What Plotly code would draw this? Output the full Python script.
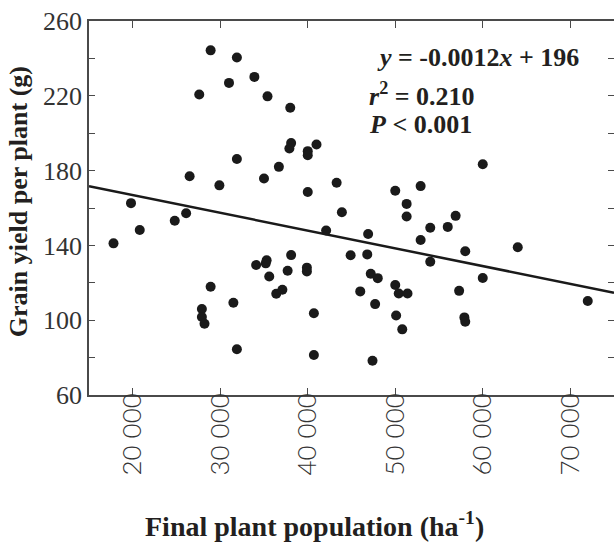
import numpy as np
import plotly.graph_objects as go

# Final plant population (ha-1)
population = [17800, 19800, 20800, 24800, 26100, 26500, 27600, 28900, 29900, 31000,
              31900, 31900, 33900, 35000, 35400, 36700, 38000, 38100, 37900, 40000,
              40000, 41000, 40000, 43300, 43900, 42100, 50000, 52900, 51300, 51300,
              46900, 44900, 46800, 54000, 56000, 56900, 52900, 54000, 60000, 58000,
              64000, 60000, 57300, 72000, 57900, 58000, 38100, 34100, 35300, 35200,
              35600, 37700, 39900, 39900, 36400, 37100, 47200, 48000, 46000, 47700,
              50000, 50400, 51400, 50100, 50800, 40700, 40700, 47400, 28900, 27900,
              27900, 28200, 31500, 31900]
# Grain yield per plant (g)
grain_yield = [141.1, 162.6, 148.2, 153.2, 157.2, 177.0, 220.7, 244.3, 172.1, 226.9,
               240.5, 186.2, 230.1, 175.8, 219.7, 182.0, 213.6, 194.7, 191.8, 190.4,
               188.2, 194.0, 168.6, 173.5, 157.7, 148.0, 169.2, 171.7, 162.2, 155.5,
               146.1, 134.7, 135.2, 149.4, 149.9, 155.8, 142.9, 131.3, 183.4, 136.9,
               139.0, 122.6, 115.7, 110.3, 101.5, 99.2, 134.8, 129.5, 132.1, 130.4,
               123.4, 126.4, 128.1, 126.0, 114.1, 116.3, 124.8, 122.5, 115.4, 108.6,
               118.8, 114.3, 114.3, 102.5, 95.1, 103.7, 81.4, 78.3, 117.9, 106.0,
               101.7, 98.1, 109.3, 84.5]

x_tickvals = [20000, 30000, 40000, 50000, 60000, 70000]
x_ticktext = ["20 000", "30 000", "40 000", "50 000", "60 000", "70 000"]
y_tickvals = [60, 80, 100, 120, 140, 160, 180, 200, 220, 240, 260]
y_ticktext = ["60", "", "100", "", "140", "", "180", "", "220", "", "260"]
x_range = [15000, 75000]
y_range = [60, 260]

slope, intercept = np.polyfit(population, grain_yield, 1)
line_x = np.array(x_range, dtype=float)
line_y = slope * line_x + intercept

SERIF = "Liberation Serif, Times New Roman, serif"
AX = "#4a4a4a"

fig = go.Figure()
fig.add_trace(go.Scatter(x=line_x, y=line_y, mode="lines",
                         line=dict(color="#1a1a1a", width=2.5),
                         hoverinfo="skip", showlegend=False))
fig.add_trace(go.Scatter(x=population, y=grain_yield, mode="markers",
                         marker=dict(color="#1a1a1a", size=10),
                         showlegend=False))
# invisible trace for right-side tick axis
fig.add_trace(go.Scatter(x=[x_range[0]], y=[y_range[0]], yaxis="y2", mode="markers",
                         marker=dict(opacity=0), hoverinfo="skip", showlegend=False))

fig.update_layout(
    width=614, height=542,
    margin=dict(l=89, r=0, t=21, b=147),
    paper_bgcolor="white", plot_bgcolor="white",
    xaxis=dict(range=x_range, tickvals=x_tickvals, ticktext=x_ticktext,
               tickangle=-90, ticks="inside", ticklen=7, tickwidth=1.2,
               tickcolor=AX, showline=True, linecolor=AX, linewidth=1.5,
               mirror="ticks", showgrid=False, zeroline=False, ticklabelstandoff=-14,
               tickfont=dict(family="Lato, sans-serif", size=26, color="#333", weight=300)),
    yaxis=dict(range=y_range, tickvals=y_tickvals, ticktext=y_ticktext,
               ticks="inside", ticklen=6, tickwidth=1.2, tickcolor=AX,
               showline=True, linecolor=AX, linewidth=1.5, mirror=False,
               showgrid=False, zeroline=False,
               tickfont=dict(family=SERIF, size=26, color="#333")),
    yaxis2=dict(range=y_range, tickvals=y_tickvals, overlaying="y", side="right",
                anchor="x", ticks="inside", ticklen=6, tickwidth=1.2, tickcolor=AX,
                showline=False, showticklabels=False, showgrid=False, zeroline=False),
)

ann_font = dict(family=SERIF, size=26, color="#231f20")
fig.add_annotation(text="<b><i>y</i> = -0.0012<i>x</i> + 196</b>", xref="paper", yref="paper",
                   x=0.545, y=0.903, xanchor="left", yanchor="middle", showarrow=False, font=ann_font)
fig.add_annotation(text="<b><i>r</i><sup>2</sup> = 0.210</b>", xref="paper", yref="paper",
                   x=0.530, y=0.803, xanchor="left", yanchor="middle", showarrow=False, font=ann_font)
fig.add_annotation(text="<b><i>P</i> &lt; 0.001</b>", xref="paper", yref="paper",
                   x=0.530, y=0.724, xanchor="left", yanchor="middle", showarrow=False, font=ann_font)

fig.add_annotation(text="<b>Final plant population (ha<sup>-1</sup>)</b>", xref="paper", yref="paper",
                   x=0.4286, y=-0.347, xanchor="center", yanchor="middle", showarrow=False,
                   font=dict(family=SERIF, size=28, color="#231f20"))
fig.add_annotation(text="<b>Grain yield per plant (g)</b>", xref="paper", yref="paper",
                   x=-0.135, y=0.516, xanchor="center", yanchor="middle", textangle=-90,
                   showarrow=False, font=dict(family=SERIF, size=26, color="#231f20"))

fig.write_html("out.html")
